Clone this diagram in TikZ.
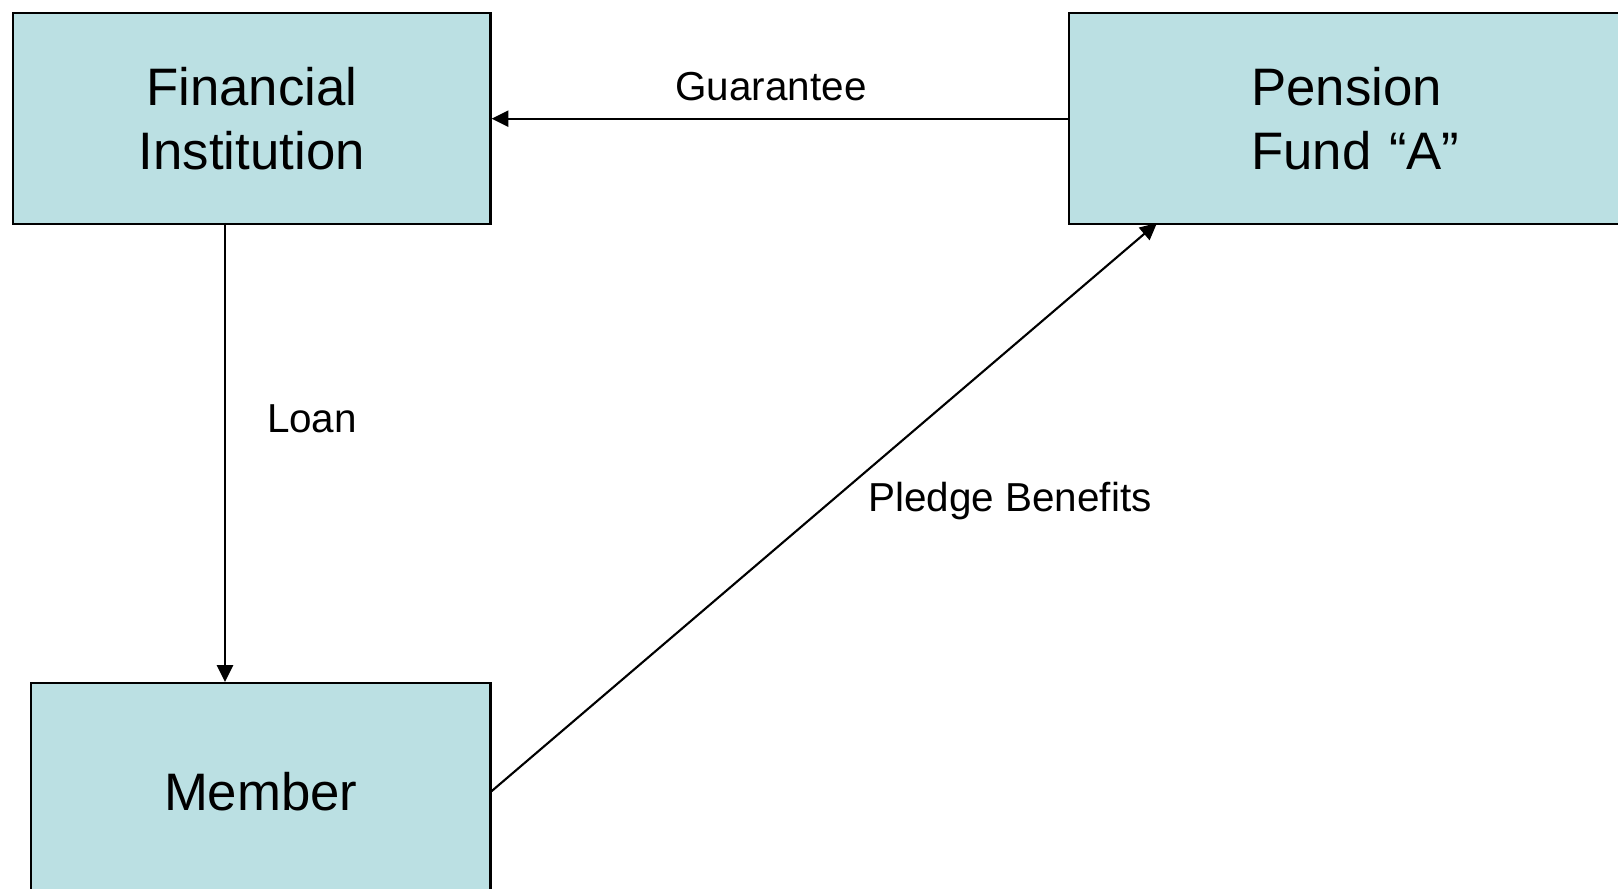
\documentclass[tikz,border=0pt]{standalone}
\usepackage{fontspec}
\setmainfont{Liberation Sans}
\usetikzlibrary{positioning,arrows.meta}
\definecolor{boxColor}{RGB}{187,224,227}
\tikzstyle{pixelGrid} = [x = 0.01cm, y = -0.01cm]
\tikzstyle{partyBox} = [draw=black, fill=boxColor, line width=0.65pt, inner sep=0pt, anchor=north west, font=\fontsize{15}{18.2}\selectfont, align=center]
\tikzstyle{flowArrow} = [-{Triangle[length=4.8pt,width=4.6pt]}, line width=0.6pt]
\tikzstyle{flowText} = [font=\fontsize{11.5}{14}\selectfont]

\begin{document}
\begin{tikzpicture}[pixelGrid]
          \useasboundingbox (0,0) rectangle (1618,889);
          \clip (0,0) rectangle (1618,889);

          % parties
          \node [partyBox, minimum width=4.77cm, minimum height=2.11cm] (institution) at (12,12) {Financial\\Institution};
          \node [partyBox, minimum height=2.11cm, text width=2.68cm, inner xsep=1.82cm, align=left] (pensionFund) at (1068,12) {Pension\\Fund “A”};
          \node [partyBox, minimum width=4.59cm, minimum height=2.16cm] (member) at (30,682) {Member};

          % flows
          \coordinate (loanTop) at (225,223);
          \coordinate (pledgeTip) at (1157,223);
          \draw [flowArrow] (pensionFund.west) -- (institution.east);
          \draw [flowArrow] (loanTop) -- (loanTop |- member.north);
          \draw [flowArrow] (member.east) -- (pledgeTip);

          \node [flowText] (guaranteeText) at (771,87) {Guarantee};
          \node [flowText] (loanText) at (312,419) {Loan};
          \node [flowText] (pledgeText) at (1010,501) {Pledge Benefits};
        \end{tikzpicture}
\end{document}
